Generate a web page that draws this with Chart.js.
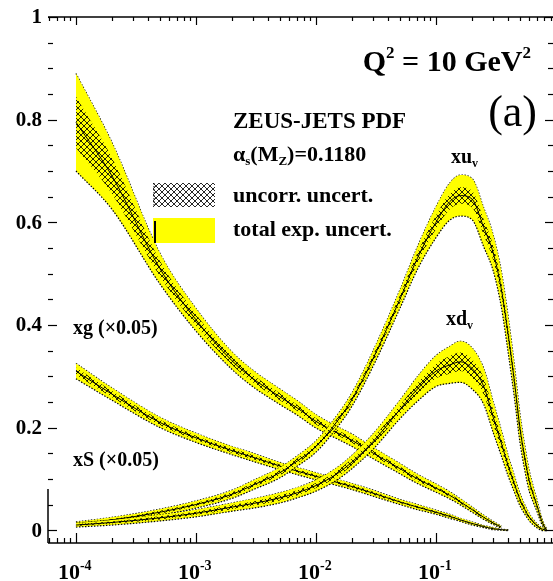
<!DOCTYPE html>
<html>
<head>
<meta charset="utf-8">
<script src="https://cdn.jsdelivr.net/npm/chart.js@4/dist/chart.umd.min.js"></script>
<style>
  html, body { margin: 0; padding: 0; background: #fff; }
  canvas { display: block; }
</style>
</head>
<body>
<canvas id="pdf-chart" width="553" height="581"></canvas>
<script>
// x values shared by all four PDFs
const xGrid = [1e-4, 2e-4, 5e-4, 1e-3, 2e-3, 3e-3, 5e-3, 7e-3, 0.01, 0.015, 0.02, 0.03,
    0.05, 0.07, 0.1, 0.13, 0.16, 0.2, 0.25, 0.3, 0.35, 0.4, 0.45, 0.5, 0.55, 0.6,
    0.65, 0.7, 0.75, 0.8, 0.84];

// xu_v : central value, total exp. half width, uncorrelated half width
const xuv = [0.012, 0.02, 0.035, 0.05, 0.07, 0.088, 0.112, 0.135, 0.163, 0.212, 0.255, 0.335,
    0.45, 0.53, 0.6, 0.64, 0.652, 0.645, 0.59, 0.54, 0.47, 0.38, 0.29, 0.2, 0.14, 0.095,
    0.068, 0.045, 0.022, 0.007, 0.0];
const xuvTot = [0.004, 0.005, 0.006, 0.007, 0.008, 0.009, 0.01, 0.01, 0.011, 0.012, 0.013, 0.015,
    0.018, 0.022, 0.03, 0.036, 0.04, 0.04, 0.038, 0.035, 0.035, 0.035, 0.032, 0.028, 0.024, 0.02,
    0.015, 0.011, 0.007, 0.004, 0.002];
const xuvUnc = [0.002, 0.002, 0.003, 0.003, 0.004, 0.004, 0.005, 0.005, 0.005, 0.006, 0.006, 0.007,
    0.008, 0.01, 0.013, 0.015, 0.016, 0.016, 0.015, 0.014, 0.013, 0.012, 0.011, 0.01, 0.009, 0.008,
    0.006, 0.005, 0.003, 0.002, 0.001];

// xd_v
const xdv = [0.01, 0.015, 0.024, 0.033, 0.045, 0.052, 0.063, 0.073, 0.087, 0.11, 0.133, 0.173,
    0.235, 0.275, 0.31, 0.322, 0.328, 0.315, 0.28, 0.22, 0.17, 0.125, 0.09, 0.06, 0.04, 0.025,
    0.015, 0.008, 0.003, 0.001, 0.0];
const xdvTot = [0.004, 0.005, 0.006, 0.007, 0.008, 0.009, 0.01, 0.01, 0.011, 0.012, 0.013, 0.015,
    0.018, 0.024, 0.03, 0.036, 0.04, 0.04, 0.035, 0.03, 0.025, 0.02, 0.016, 0.012, 0.009, 0.007,
    0.005, 0.004, 0.003, 0.002, 0.001];
const xdvUnc = [0.002, 0.002, 0.003, 0.003, 0.004, 0.004, 0.005, 0.005, 0.005, 0.006, 0.006, 0.007,
    0.008, 0.011, 0.014, 0.017, 0.018, 0.018, 0.016, 0.014, 0.011, 0.009, 0.007, 0.005, 0.004, 0.003,
    0.002, 0.002, 0.001, 0.001, 0.0];

// xg (x 0.05), up to x = 0.35
const xg = [0.795, 0.69, 0.51, 0.41, 0.33, 0.295, 0.26, 0.238, 0.212, 0.19, 0.175, 0.15,
    0.12, 0.1, 0.082, 0.068, 0.055, 0.04, 0.025, 0.014, 0.006];
const xgTot = [0.095, 0.065, 0.03, 0.022, 0.017, 0.016, 0.015, 0.014, 0.013, 0.012, 0.012, 0.011,
    0.01, 0.009, 0.008, 0.007, 0.006, 0.005, 0.004, 0.003, 0.002];
const xgUnc = [0.05, 0.035, 0.015, 0.011, 0.008, 0.007, 0.007, 0.006, 0.006, 0.005, 0.005, 0.005,
    0.004, 0.004, 0.003, 0.003, 0.003, 0.002, 0.002, 0.001, 0.001];

// xS (x 0.05), up to x = 0.4
const xS = [0.31, 0.265, 0.21, 0.18, 0.155, 0.142, 0.125, 0.115, 0.105, 0.093, 0.085, 0.072,
    0.055, 0.045, 0.035, 0.027, 0.02, 0.013, 0.007, 0.003, 0.001, 0.0];
const xSTot = [0.015, 0.012, 0.01, 0.009, 0.008, 0.008, 0.007, 0.007, 0.007, 0.006, 0.006, 0.006,
    0.005, 0.005, 0.004, 0.004, 0.003, 0.003, 0.002, 0.002, 0.001, 0.001];
const xSUnc = [0.007, 0.006, 0.005, 0.004, 0.004, 0.004, 0.003, 0.003, 0.003, 0.003, 0.003, 0.003,
    0.002, 0.002, 0.002, 0.002, 0.001, 0.001, 0.001, 0.001, 0.0, 0.0];

const yTickLabels = ["0", "0.2", "0.4", "0.6", "0.8", "1"];
const xDecades = [-4, -3, -2, -1];

const YELLOW = "#ffff00";
const SERIF = '"Liberation Serif", "Times New Roman", serif';
const B = (s) => "bold " + s + "px " + SERIF;
const N = (s) => s + "px " + SERIF;

// cross hatch used for the uncorrelated band
const hatch = (() => {
    const c = document.createElement("canvas");
    c.width = 6;
    c.height = 6;
    const g = c.getContext("2d");
    g.strokeStyle = "rgba(0,0,0,0.85)";
    g.lineWidth = 1;
    g.beginPath();
    g.moveTo(0, 0); g.lineTo(6, 6);
    g.moveTo(6, 0); g.lineTo(0, 6);
    g.stroke();
    return g.createPattern(c, "repeat");
})();

function curve(vals, tot, unc) {
    const at = (off, s) => vals.map((v, i) => ({ x: xGrid[i], y: v + s * off[i] }));
    const edge = { borderColor: "#000", borderWidth: 1.2, borderDash: [1.5, 1.5] };
    const none = "rgba(0,0,0,0)";
    return [
        { data: at(tot, 1), ...edge, fill: false },
        { data: at(tot, -1), ...edge, fill: "-1", backgroundColor: YELLOW },
        { data: at(unc, 1), borderColor: none, borderWidth: 1, fill: false },
        { data: at(unc, -1), borderColor: none, borderWidth: 1, fill: "-1", backgroundColor: hatch },
        { data: at(unc, 0), borderColor: "#000", borderWidth: 1, fill: false },
    ];
}

function runs(ctx, x, y, parts) {
    for (const [s, font, dy] of parts) {
        ctx.font = font;
        ctx.fillText(s, x, y + (dy || 0));
        x += ctx.measureText(s).width;
    }
    return x;
}

function runsWidth(ctx, parts) {
    let w = 0;
    for (const [s, font] of parts) {
        ctx.font = font;
        w += ctx.measureText(s).width;
    }
    return w;
}

const frame = {
    id: "frame",
    afterDraw(chart) {
        const { ctx, chartArea: a, scales: { x, y } } = chart;
        const seg = (x1, y1, x2, y2) => {
            ctx.beginPath();
            ctx.moveTo(x1, y1);
            ctx.lineTo(x2, y2);
            ctx.stroke();
        };
        ctx.save();
        ctx.strokeStyle = "#000";
        ctx.fillStyle = "#000";
        ctx.lineWidth = 1.5;

        seg(a.left, a.top, a.right, a.top);
        seg(a.left, a.bottom, a.right, a.bottom);
        seg(a.left, y.getPixelForValue(0.08), a.left, a.bottom);

        // y ticks, both sides
        ctx.lineWidth = 1.2;
        for (let k = 0; k <= 20; k++) {
            const py = Math.round(y.getPixelForValue(k * 0.05)) + 0.5;
            const major = k % 4 === 0;
            seg(a.left, py, a.left + (major ? 9 : 5), py);
            seg(a.right, py, a.right - (major ? 8 : 5), py);
        }
        // x ticks, bottom and top
        for (let d = -5; d <= 0; d++) {
            for (let m = 1; m <= 9; m++) {
                const v = m * Math.pow(10, d);
                if (v < x.min || v > x.max) continue;
                const px = Math.round(x.getPixelForValue(v)) + 0.5;
                const major = m === 1;
                seg(px, a.bottom, px, a.bottom - (major ? 10 : 5));
                seg(px, a.top, px, a.top + (major ? 8 : 4));
            }
        }

        // y labels
        ctx.textAlign = "right";
        ctx.textBaseline = "middle";
        ctx.font = B(21);
        yTickLabels.forEach((t) => {
            ctx.fillText(t, a.left - 6, y.getPixelForValue(parseFloat(t)) + 1);
        });

        // x labels 10^d
        ctx.textAlign = "left";
        ctx.textBaseline = "alphabetic";
        xDecades.forEach((d) => {
            const px = x.getPixelForValue(Math.pow(10, d));
            runs(ctx, px - 18, 579, [["10", B(22)], [String(d), B(14), -9]]);
        });

        // title block
        const q = [["Q", B(30)], ["2", B(17), -13], [" = 10 GeV", B(30)], ["2", B(17), -13]];
        runs(ctx, 531 - runsWidth(ctx, q), 71, q);
        const lab = [["(a)", N(44)]];
        runs(ctx, 537 - runsWidth(ctx, lab), 126, lab);

        runs(ctx, 233, 128, [["ZEUS-JETS PDF", B(23)]]);
        runs(ctx, 233, 161, [["\u03b1", B(22)], ["s", B(13), 4], ["(M", B(22)], ["Z", B(13), 4], [")=0.1180", B(22)]]);
        runs(ctx, 233, 202, [["uncorr. uncert.", B(22)]]);
        runs(ctx, 233, 236, [["total exp. uncert.", B(22)]]);

        // legend swatches
        ctx.fillStyle = hatch;
        ctx.fillRect(153, 183, 62, 24);
        ctx.fillStyle = YELLOW;
        ctx.fillRect(153, 218, 62, 25);
        ctx.fillStyle = "#000";
        ctx.lineWidth = 2;
        seg(155, 221, 155, 243);
        ctx.lineWidth = 1;
        ctx.setLineDash([1.5, 1.5]);
        seg(154, 183, 154, 207);
        ctx.setLineDash([]);

        // curve labels
        runs(ctx, 451, 163, [["xu", B(20)], ["v", B(12), 4]]);
        runs(ctx, 446, 325, [["xd", B(20)], ["v", B(12), 4]]);
        runs(ctx, 73, 334, [["xg (\u00d70.05)", B(20)]]);
        runs(ctx, 73, 466, [["xS (\u00d70.05)", B(20)]]);

        ctx.restore();
    },
};

const datasets = [
    ...curve(xg, xgTot, xgUnc),
    ...curve(xS, xSTot, xSUnc),
    ...curve(xuv, xuvTot, xuvUnc),
    ...curve(xdv, xdvTot, xdvUnc),
];
// draw in list order (yellow band, then hatch, then central line)
datasets.forEach((ds, i) => { ds.order = -i; });

new Chart(document.querySelector("#pdf-chart").getContext("2d"), {
    type: "line",
    data: { datasets },
    options: {
        responsive: false,
        animation: false,
        devicePixelRatio: 1,
        layout: { padding: { left: 48, top: 17, right: 0, bottom: 38 } },
        elements: {
            point: { radius: 0 },
            line: { cubicInterpolationMode: "monotone" },
        },
        plugins: {
            legend: { display: false },
            tooltip: { enabled: false },
        },
        scales: {
            x: { type: "logarithmic", min: 5.85e-5, max: 0.944, display: false },
            y: { type: "linear", min: -0.025, max: 1, display: false },
        },
    },
    plugins: [frame],
});
</script>
</body>
</html>
